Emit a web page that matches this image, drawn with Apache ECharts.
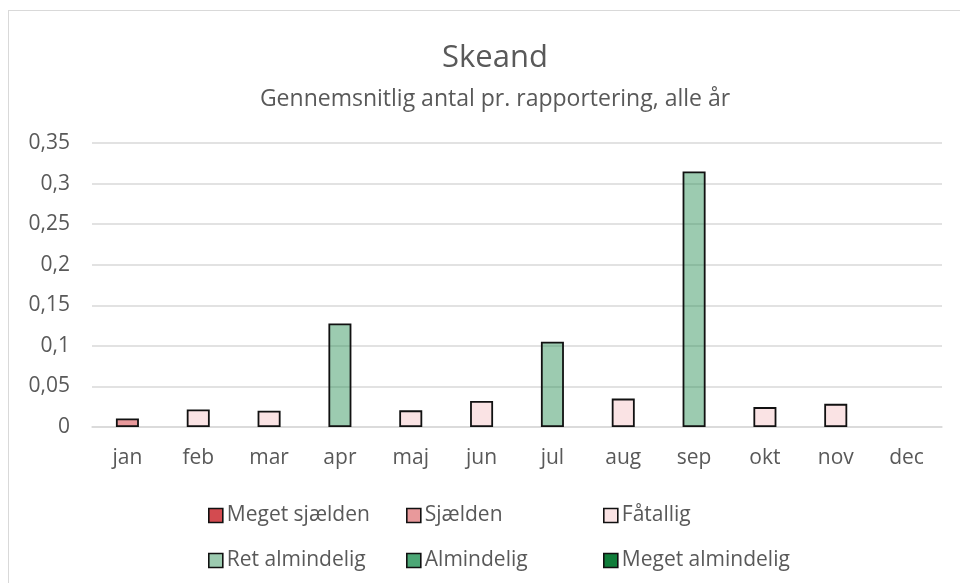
<!DOCTYPE html>
<html>
<head>
<meta charset="utf-8">
<script src="https://cdn.jsdelivr.net/npm/echarts@6/dist/echarts.min.js"></script>
<style>
  html, body { margin: 0; padding: 0; background: #fff; }
  #frame { position: absolute; left: 8px; top: 10px; width: 1000px; height: 640px; border: 1px solid #d9d9d9; box-sizing: border-box; }
  #chart { position: absolute; left: 0; top: 0; width: 960px; height: 583px; }
</style>
</head>
<body>
<div id="frame"></div>
<div id="chart"></div>
<script>
// months and average count per report (dec has no reports)
var months = ['jan', 'feb', 'mar', 'apr', 'maj', 'jun', 'jul', 'aug', 'sep', 'okt', 'nov', 'dec'];
var values = [0.0105, 0.0215, 0.0200, 0.1275, 0.0205, 0.0320, 0.1050, 0.0350, 0.3150, 0.0245, 0.0285, null];
// frequency class of each month
var classes = ['Sjælden', 'Fåtallig', 'Fåtallig', 'Ret almindelig', 'Fåtallig', 'Fåtallig',
  'Ret almindelig', 'Fåtallig', 'Ret almindelig', 'Fåtallig', 'Fåtallig', 'Fåtallig'];
var classNames = ['Meget sjælden', 'Sjælden', 'Fåtallig', 'Ret almindelig', 'Almindelig', 'Meget almindelig'];
var yTicks = [0, 0.05, 0.1, 0.15, 0.2, 0.25, 0.3, 0.35];

var colors = {
  'Meget sjælden': 'rgba(200,30,36,0.8)',
  'Sjælden': 'rgba(214,70,72,0.55)',
  'Fåtallig': 'rgba(244,193,195,0.45)',
  'Ret almindelig': 'rgba(35,139,80,0.45)',
  'Almindelig': 'rgba(0,130,60,0.7)',
  'Meget almindelig': 'rgb(16,125,58)'
};
var legendPos = [[203, 500], [401, 500], [598, 500], [203, 545], [401, 545], [598, 545]];

var font = 'Open Sans, Noto Sans, sans-serif';

var series = classNames.map(function (name) {
  return {
    name: name,
    type: 'bar',
    stack: 'all',
    barWidth: 23,
    itemStyle: { color: colors[name], borderColor: '#111', borderWidth: 1.8 },
    data: values.map(function (v, i) { return classes[i] === name ? v : null; })
  };
});

var legends = classNames.map(function (name, i) {
  return {
    data: [name],
    left: legendPos[i][0],
    top: legendPos[i][1],
    icon: 'rect',
    itemWidth: 14,
    itemHeight: 14,
    itemStyle: { borderColor: '#111', borderWidth: 1.6 },
    textStyle: { fontFamily: font, fontSize: 21, color: '#595959', padding: [0, 0, 0, -1] }
  };
});

var option = {
  animation: false,
  title: {
    text: 'Skeand',
    subtext: 'Gennemsnitlig antal pr. rapportering, alle år',
    left: 490,
    textAlign: 'center',
    top: 38,
    itemGap: 14,
    textStyle: { fontFamily: font, fontSize: 31, fontWeight: 'normal', color: '#595959' },
    subtextStyle: { fontFamily: font, fontSize: 23, color: '#595959' }
  },
  legend: legends,
  grid: { left: 92, right: 18, top: 143, bottom: 156 },
  xAxis: {
    type: 'category',
    data: months,
    axisLine: { lineStyle: { color: '#d9d9d9', width: 1.5 } },
    axisTick: { show: false },
    axisLabel: { fontFamily: font, fontSize: 21, color: '#595959', margin: 21 }
  },
  yAxis: {
    type: 'value',
    min: yTicks[0],
    max: yTicks[yTicks.length - 1],
    interval: 0.05,
    axisLine: { show: false },
    axisTick: { show: false },
    splitLine: { lineStyle: { color: '#d9d9d9', width: 1.5 } },
    axisLabel: {
      fontFamily: font, fontSize: 21, color: '#595959', margin: 22,
      formatter: function (v) { return String(Math.round(v * 100) / 100).replace('.', ','); }
    }
  },
  series: series
};

var chart = echarts.init(document.getElementById('chart'));
chart.setOption(option);
</script>
</body>
</html>
